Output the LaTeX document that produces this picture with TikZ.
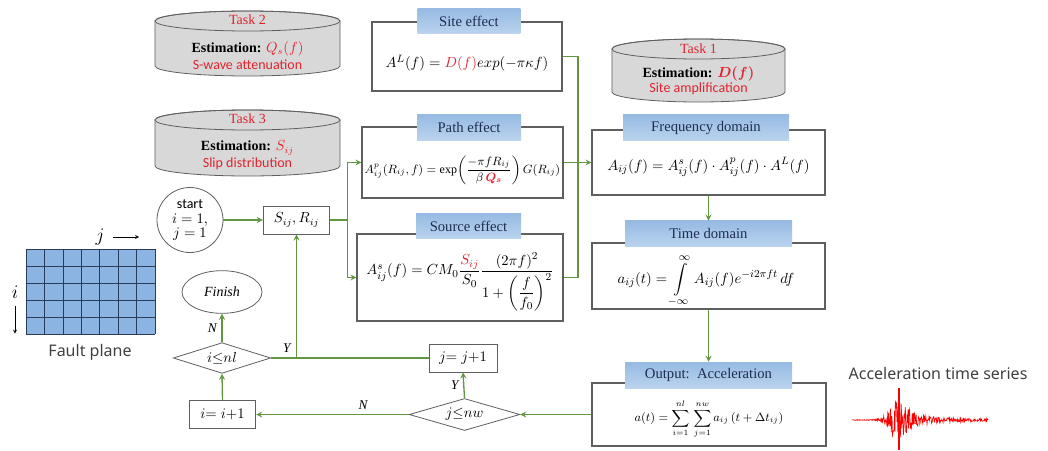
\documentclass[tikz,border=0pt]{standalone}
\usepackage{amsmath,amssymb}
\usepackage{fontspec}
\setmainfont{Liberation Serif}
\newfontfamily\calibri{Carlito}
\newfontfamily\notosans{Noto Sans}
\usetikzlibrary{arrows,shapes,positioning,calc}
\definecolor{linkgreen}{RGB}{98,150,64}
\definecolor{boxgray}{RGB}{95,95,95}
\definecolor{tabtop}{RGB}{150,186,226}
\definecolor{tabbot}{RGB}{186,211,238}
\definecolor{tabtext}{RGB}{30,45,80}
\definecolor{taskred}{RGB}{225,35,45}
\definecolor{cylfill}{RGB}{216,216,216}
\definecolor{gridblue}{RGB}{140,180,226}
\definecolor{griddark}{RGB}{40,60,90}

\begin{document}
\begin{tikzpicture}[>=stealth, x=0.75pt, y=-0.75pt,
  effbox/.style={draw=boxgray, line width=0.8pt, fill=white, inner sep=0pt},
  tab/.style={top color=tabtop, bottom color=tabbot, text=tabtext, inner sep=0pt, font=\fontsize{11}{12}\selectfont},
  flow/.style={draw=boxgray, line width=0.6pt, fill=white, inner sep=0pt, font=\fontsize{10.5}{12}\selectfont},
  link/.style={draw=linkgreen, line width=1pt},
  task/.style={font=\fontsize{10.5}{12}\selectfont},
  lab/.style={font=\fontsize{10}{12}\selectfont\itshape}]
  \useasboundingbox (0,0) rectangle (1048,450);

  % task cylinders
  \foreach \cx/\rx/\yt/\yb in {247.5/69.4/21/66, 247.5/69.4/120/166, 698.5/64.9/49/92} {
    \filldraw[fill=cylfill, draw=boxgray, line width=0.6pt]
      ({\cx-\rx/0.75},\yb) arc[start angle=180, end angle=360, x radius=\rx pt, y radius=7.5pt]
      -- ({\cx+\rx/0.75},\yt) arc[start angle=0, end angle=180, x radius=\rx pt, y radius=7.5pt] -- cycle;
    \draw[boxgray, line width=0.6pt] (\cx,\yt) ellipse[x radius=\rx pt, y radius=7.5pt];
  }
  \node[task, text=taskred] (task2) at (247.5,20) {Task 2};
  \node[task] (est2) at (247.5,49) {\textbf{Estimation:} {\color{taskred}$Q_s(f)$}};
  \node[task, text=taskred] (att2) at (247.5,65) {\calibri S-wave attenuation};
  \node[task, text=taskred] (task3) at (247.5,119) {Task 3};
  \node[task] (est3) at (247.5,148) {\textbf{Estimation:} {\color{taskred}$S_{ij}$}};
  \node[task, text=taskred] (slip3) at (247.5,164) {\calibri Slip distribution};
  \node[task, text=taskred] (task1) at (698.5,49) {Task 1};
  \node[task] (est1) at (698.5,74) {\textbf{Estimation:} {\color{taskred}$\boldsymbol{D(f)}$}};
  \node[task, text=taskred] (amp1) at (698.5,89) {\calibri Site amplification};

  % effect boxes
  \node[effbox, minimum width=142.5pt, minimum height=51.75pt] (site) at (467,56.5) {};
  \node[tab, minimum width=77pt, minimum height=19pt] (sitetab) at (469,21) {Site effect};
  \node[font=\fontsize{11}{12}\selectfont] (sitef) at (467,63) {$A^L(f) = {\color{taskred}D(f)}exp(-\pi\kappa f)$};

  \node[effbox, minimum width=150.75pt, minimum height=53.25pt] (path) at (462.5,162.5) {};
  \node[tab, minimum width=78pt, minimum height=19.5pt] (pathtab) at (469,127) {Path effect};
  \node[font=\fontsize{9}{10}\selectfont] (pathf) at (462.5,170) {$A^{p}_{ij}\!\left(R_{ij},f\right) = \exp\!\left(\dfrac{-\pi f R_{ij}}{\beta\,{\color{taskred}\boldsymbol{Q_s}}}\right)G\!\left(R_{ij}\right)$};

  \node[effbox, minimum width=154.5pt, minimum height=65.25pt] (src) at (460,277.5) {};
  \node[tab, minimum width=78.75pt, minimum height=19pt] (srctab) at (468.5,226) {Source effect};
  \node[font=\fontsize{11}{12}\selectfont] (srcf) at (460,282) {$A^s_{ij}(f) = CM_0\dfrac{{\color{taskred}S_{ij}}}{S_0}\dfrac{(2\pi f)^2}{1+\left(\dfrac{f}{f_0}\right)^{2}}$};

  % domain boxes
  \node[effbox, minimum width=174.75pt, minimum height=48.75pt] (freq) at (708.5,162.5) {};
  \node[tab, minimum width=124.5pt, minimum height=19pt] (freqtab) at (706,127.5) {Frequency domain};
  \node[font=\fontsize{11}{12}\selectfont] (freqf) at (708.5,167) {$A_{ij}(f) = A^s_{ij}(f)\cdot A^p_{ij}(f)\cdot A^L(f)$};

  \node[effbox, minimum width=174.75pt, minimum height=49.5pt] (time) at (708.5,276) {};
  \node[tab, minimum width=125.25pt, minimum height=19pt] (timetab) at (708.5,233.5) {Time domain};
  \node[font=\fontsize{11}{12}\selectfont] (timef) at (706,281) {$a_{ij}(t) = \displaystyle\int\limits_{-\infty}^{\infty} A_{ij}(f)e^{-i2\pi f t}\,df$};

  \node[effbox, minimum width=175.5pt, minimum height=47.25pt] (out) at (709,414.5) {};
  \node[tab, minimum width=125.25pt, minimum height=19.5pt] (outtab) at (708.5,375) {Output:~~Acceleration};
  \node[font=\fontsize{9}{10}\selectfont] (outf) at (709,419) {$a(t) = \displaystyle\sum_{i=1}^{nl}\,\sum_{j=1}^{nw} a_{ij}\left(t+\Delta t_{ij}\right)$};

  % loop over subfaults
  \node[flow, ellipse, minimum width=49.5pt, minimum height=48.75pt, align=center] (start) at (190,220)
    {{\calibri start}\\[-1pt] $i=1,$\\[-1pt] $j=1$};
  \node[flow, minimum width=50pt, minimum height=21pt] (sij) at (296.5,220) {$S_{ij},R_{ij}$};
  \node[flow, ellipse, minimum width=60pt, minimum height=32pt] (fin) at (222,292) {\textit{Finish}};
  \node[flow, diamond, aspect=3, minimum width=73pt, minimum height=23pt] (inl) at (222,358) {$i{\le}nl$};
  \node[flow, minimum width=51pt, minimum height=21pt] (jj) at (463,358) {$j{=}\;j{+}1$};
  \node[flow, diamond, aspect=3, minimum width=83pt, minimum height=24pt] (jnw) at (464.5,414.5) {$j{\le}nw$};
  \node[flow, minimum width=50pt, minimum height=21pt] (ii) at (222.5,414.5) {$i{=}\;i{+}1$};

  % connectors
  \draw[link, ->] (start.east) -- (sij.west);
  \draw[link] (sij.east) -- ++(17,0) coordinate (br);
  \draw[link, ->] (br) |- (path.west);
  \draw[link, ->] (br) |- (src.west);
  \coordinate (rb) at (578,162.5);
  \draw[link] (site.east) -| (rb);
  \draw[link] (src.east) -| (rb);
  \draw[link, ->] (path.east) -- (freq.west);
  \draw[link, ->] (freq.south) -- (timetab.north);
  \draw[link, ->] (time.south) -- (outtab.north);
  \draw[link, ->] (out.west) -- (jnw.east);
  \draw[link, ->] (jnw.west) -- node[lab, above, pos=0.3] {N} (ii.east);
  \draw[link, ->] (jnw.north) -- node[lab, left] {Y} (jj.south);
  \draw[link, ->] (ii.north) -- (inl.south);
  \draw[link, ->] (inl.north) -- node[lab, left] {N} (fin.south);
  \draw[link] (inl.east) -- node[lab, above, pos=0.1] {Y} (jj.west);
  \draw[link, ->] (inl.east -| sij.south) -- (sij.south);

  % fault plane
  \fill[gridblue] (26,249) rectangle (155,334);
  \foreach \k in {0,...,7} \draw[griddark, line width=0.5pt] ({26+\k*129/7},249) -- ({26+\k*129/7},334);
  \foreach \k in {0,...,5} \draw[griddark, line width=0.5pt] (26,{249+\k*17}) -- (155,{249+\k*17});
  \node[font=\fontsize{15}{15}\selectfont] (jlab) at (100,237) {$j$};
  \draw[->] ([xshift=3pt]jlab.east) -- ++(26,0);
  \node[font=\fontsize{15}{15}\selectfont] (ilab) at (15,292) {$i$};
  \draw[->] ([yshift=-2pt]ilab.south) -- ++(0,28);
  \node[font=\notosans\fontsize{12}{14}\selectfont, text=black!75] (fault) at (90,352) {Fault plane};

  % acceleration record
  \node[font=\notosans\fontsize{12}{14}\selectfont, text=black!75] (accl) at (938,373) {Acceleration time series};
  \pgfmathsetseed{11}
  \draw[red, line width=0.5pt] plot[domain=852:988, samples=340]
    (\x, {420 + (ifthenelse(\x<898, 20*exp(-((\x-898)/11)^2), 20*exp(-(\x-898)/13) + 3*exp(-(\x-898)/70)) + 0.4)*rand});
  \draw[red, line width=0.8pt] (899,388) -- (899,450);
\end{tikzpicture}
\end{document}
